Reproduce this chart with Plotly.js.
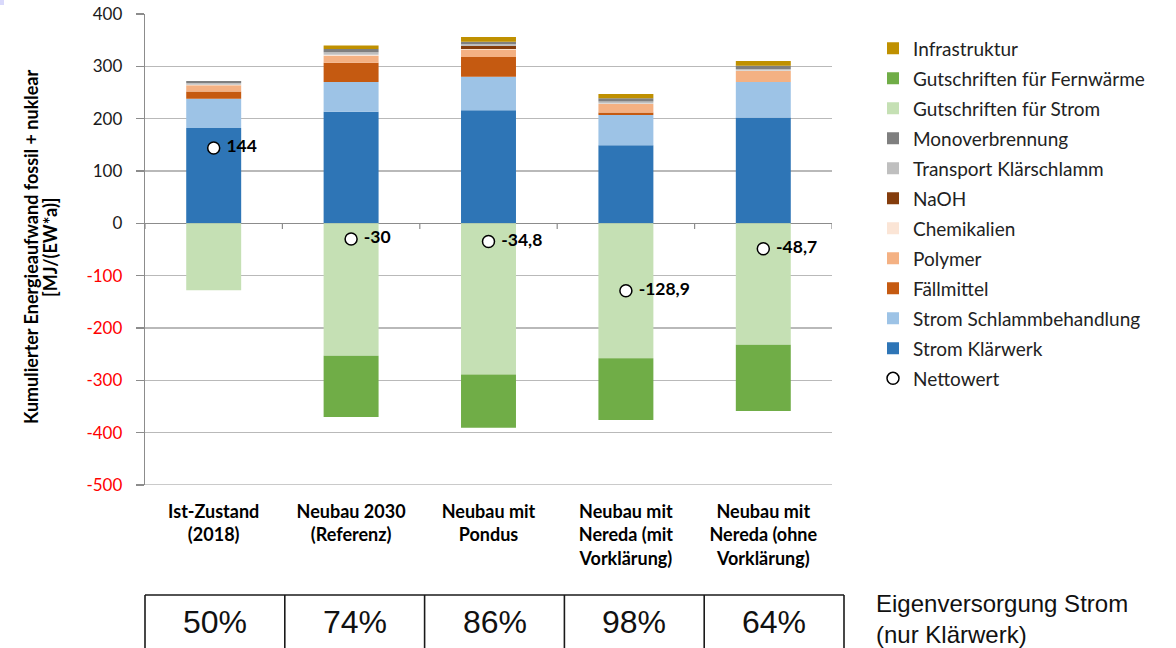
<!DOCTYPE html>
<html>
<head>
<meta charset="utf-8">
<script src="https://cdn.plot.ly/plotly-3.0.1.min.js"></script>
<style>
  html, body { margin: 0; padding: 0; background: #ffffff; }
  #chart { width: 1176px; height: 648px; }
</style>
</head>
<body>
<div id="chart"></div>
<script>
// Szenarien (x-Achse)
const categories = [
  'Ist-Zustand<br>(2018)',
  'Neubau 2030<br>(Referenz)',
  'Neubau mit<br>Pondus',
  'Neubau mit<br>Nereda (mit<br>Vorklärung)',
  'Neubau mit<br>Nereda (ohne<br>Vorklärung)'
];

// Aufwände je Szenario [MJ/(EW*a)]
const stromKlaerwerk      = [182, 213, 216, 149, 202];
const stromSchlamm        = [56, 57, 64, 58, 68];
const faellmittel         = [14, 37, 38, 5, 0];
const polymer             = [12, 13, 14, 16, 21];
const chemikalien         = [1, 2, 1, 1, 1];
const naoh                = [0, 0, 6, 0, 0];
const transportSchlamm    = [3, 5, 3, 4, 3];
const monoverbrennung     = [4, 6, 5, 6, 6];
const infrastruktur       = [0, 7, 9, 8, 9];

// Gutschriften (negativ)
const gutschriftStrom      = [-128, -253, -289, -258, -232];
const gutschriftFernwaerme = [0, -117, -101.8, -117.9, -126.7];

// Nettowert je Szenario
const nettowert = [144, -30, -34.8, -128.9, -48.7];

// Eigenversorgung Strom (nur Klärwerk)
const eigenversorgung = ['50%', '74%', '86%', '98%', '64%'];

// y-Achse
const yTicks = [400, 300, 200, 100, 0, -100, -200, -300, -400, -500];
const yTitleLines = ['Kumulierter Energieaufwand fossil + nuklear', '[MJ/(EW*a)]'];

// Geometrie der Zeichenfläche in Pixeln
const W = 1176, H = 648;
const plotL = 145, plotR = 832, plotT = 14, plotB = 485;
const px = x => (x - plotL) / (plotR - plotL);
const py = y => (plotB - y) / (plotB - plotT);

const FONT = 'Lato, "Open Sans", sans-serif';
const ARIAL = '"Liberation Sans", Arial, sans-serif';

// Stapelreihenfolge von unten nach oben
const barSeries = [
  ['Strom Klärwerk', stromKlaerwerk, '#2E75B6'],
  ['Strom Schlammbehandlung', stromSchlamm, '#9DC3E6'],
  ['Fällmittel', faellmittel, '#C55A11'],
  ['Polymer', polymer, '#F4B183'],
  ['Chemikalien', chemikalien, '#FBE5D6'],
  ['NaOH', naoh, '#843C0C'],
  ['Transport Klärschlamm', transportSchlamm, '#BFBFBF'],
  ['Monoverbrennung', monoverbrennung, '#7F7F7F'],
  ['Gutschriften für Strom', gutschriftStrom, '#C5E0B4'],
  ['Gutschriften für Fernwärme', gutschriftFernwaerme, '#70AD47'],
  ['Infrastruktur', infrastruktur, '#BF9000']
];

const traces = [];
barSeries.forEach(([name, vals, color], i) => {
  traces.push({
    type: 'bar',
    name: name,
    legendgroup: 'g' + i,
    legendrank: 100 - i,
    x: categories,
    y: vals,
    marker: { color: color, line: { width: 0 } },
    hoverinfo: 'skip'
  });
});

traces.push({
  type: 'scatter',
  mode: 'markers+text',
  name: 'Nettowert',
  legendgroup: 'netto',
  legendrank: 200,
  x: categories,
  y: nettowert,
  text: nettowert.map(v => ' ' + String(v).replace('.', ',')),
  textposition: 'middle right',
  textfont: { family: FONT, size: 17.5, color: '#000000', weight: 'bold' },
  marker: { symbol: 'circle', size: 12, color: '#ffffff', line: { color: '#000000', width: 1.5 } },
  cliponaxis: false,
  hoverinfo: 'skip'
});

// Tabelle unter dem Diagramm
const tableLeft = 145, colW = 139.8, tableTop = 595, tableBottom = 662;
const shapes = [];
// Gitterlinie am unteren Achsenende
shapes.push({
  type: 'line', xref: 'paper', yref: 'y', layer: 'below',
  x0: 0, x1: 1, y0: -500, y1: -500,
  line: { color: '#b9b9b9', width: 1.3 }
});
shapes.push({
  type: 'line', xref: 'paper', yref: 'paper',
  x0: px(tableLeft), x1: px(tableLeft + 5 * colW), y0: py(tableTop), y1: py(tableTop),
  line: { color: '#1a1a1a', width: 1.6 }
});
for (let i = 0; i <= eigenversorgung.length; i++) {
  const xx = tableLeft + i * colW;
  shapes.push({
    type: 'line', xref: 'paper', yref: 'paper',
    x0: px(xx), x1: px(xx), y0: py(tableTop), y1: py(tableBottom),
    line: { color: '#1a1a1a', width: 1.6 }
  });
}
// Teilstriche an der Nulllinie zwischen den Kategorien
for (let i = 0; i <= categories.length; i++) {
  shapes.push({
    type: 'line', xref: 'x', yref: 'y',
    x0: i - 0.5, x1: i - 0.5, y0: 0, y1: -11,
    line: { color: '#8c8c8c', width: 1.2 }
  });
}
// kleine Farbfläche oben links
shapes.push({
  type: 'rect', xref: 'paper', yref: 'paper',
  x0: px(0), x1: px(4), y0: py(0), y1: py(5),
  fillcolor: '#d9d9fb', line: { width: 0 }
});

const annotations = [];
eigenversorgung.forEach((t, i) => {
  annotations.push({
    xref: 'paper', yref: 'paper',
    x: px(tableLeft + colW * (i + 0.5)), y: py(622),
    xanchor: 'center', yanchor: 'middle',
    text: t, showarrow: false,
    font: { family: ARIAL, size: 32, color: '#111111' }
  });
});
annotations.push({
  xref: 'paper', yref: 'paper',
  x: px(874), y: py(619),
  xanchor: 'left', yanchor: 'middle', align: 'left',
  text: 'Eigenversorgung Strom<br>(nur Klärwerk)', showarrow: false,
  font: { family: ARIAL, size: 24, color: '#111111' }
});
// Achsentitel der y-Achse, zweizeilig
yTitleLines.forEach((t, i) => {
  annotations.push({
    xref: 'paper', yref: 'paper',
    x: px(31 + i * 19), y: py(247),
    xanchor: 'center', yanchor: 'middle',
    textangle: -90,
    text: t, showarrow: false,
    font: { family: FONT, size: 18, color: '#000000', weight: 'bold' }
  });
});

const layout = {
  width: W, height: H,
  margin: { l: plotL, r: W - plotR, t: plotT, b: H - plotB, pad: 0 },
  paper_bgcolor: '#ffffff',
  plot_bgcolor: '#ffffff',
  barmode: 'relative',
  bargap: 0.6,
  showlegend: true,
  legend: {
    x: px(873), y: py(29.5), xanchor: 'left', yanchor: 'top',
    traceorder: 'grouped',
    tracegroupgap: 2.3,
    font: { family: FONT, size: 19, color: '#222222' },
    bgcolor: 'rgba(0,0,0,0)', borderwidth: 0
  },
  xaxis: {
    type: 'category',
    categoryorder: 'array', categoryarray: categories,
    range: [-0.5, 4.5],
    showgrid: false, zeroline: false, showline: false,
    ticks: '', ticklabelstandoff: 14,
    tickfont: { family: FONT, size: 18, color: '#000000', weight: 'bold' },
    fixedrange: true
  },
  yaxis: {
    range: [-500, 400],
    tickvals: yTicks,
    ticktext: yTicks.map(v => v < 0 ? '<span style="color:#ff0000">' + v + '</span>' : String(v)),
    showgrid: true, gridcolor: '#b9b9b9', gridwidth: 1.3,
    zeroline: true, zerolinecolor: '#8c8c8c', zerolinewidth: 1.3,
    showline: true, linecolor: '#8c8c8c', linewidth: 1.3,
    ticks: 'outside', ticklen: 8, tickcolor: '#8c8c8c', tickwidth: 1.2,
    ticklabelstandoff: 10,
    tickfont: { family: FONT, size: 17, color: '#1a1a1a' },
    fixedrange: true
  },
  shapes: shapes,
  annotations: annotations
};

Plotly.newPlot('chart', traces, layout, { displayModeBar: false, staticPlot: true });
</script>
</body>
</html>
